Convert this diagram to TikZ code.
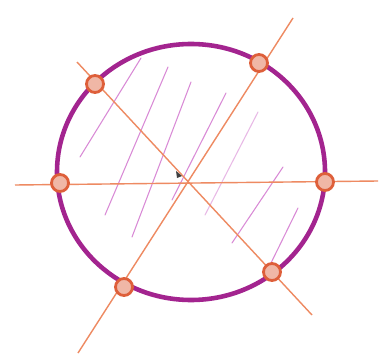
\documentclass[tikz,border=0pt]{standalone}
\definecolor{ringpurple}{HTML}{A3248F}
\definecolor{axisorange}{HTML}{EE8A62}
\definecolor{markorange}{HTML}{DE5F3A}
\definecolor{hatchpink}{HTML}{D98AD6}
\tikzset{
  axisline/.style={draw=axisorange, line width=0.8pt},
  hatchline/.style={draw=hatchpink, line width=0.6pt, line cap=round},
  ringline/.style={draw=ringpurple, line width=2.6pt},
  marker/.style={circle, draw=markorange, fill=markorange!45!white, line width=1.6pt,
    minimum size=0.34cm, inner sep=0pt},
}
\begin{document}
\begin{tikzpicture}[x=0.02cm, y=-0.02cm]
    \useasboundingbox[fill=white] (0,0) rectangle (391,361);
    % ends of the three lines
    \coordinate (hl) at (15,185);
    \coordinate (hr) at (378,181);
    \coordinate (dl) at (77,62);
    \coordinate (dr) at (312,315);
    \coordinate (ul) at (78,353);
    \coordinate (ur) at (293,18);
    \coordinate (ringc) at (191,172);
    % hatching
    \draw[hatchline] (80,157) -- (141,58);
    \draw[hatchline] (105,215) -- (168,67);
    \draw[hatchline] (132,237) -- (191,82);
    \draw[hatchline] (172,200) -- (226,93);
    \draw[hatchline, opacity=0.6] (205,215) -- (258,112);
    \draw[hatchline] (232,243) -- (283,167);
    \draw[hatchline] (270,265) -- (298,208);
    % lines
    \draw[axisline] (hl) -- (hr);
    \draw[axisline] (dl) -- (dr);
    \draw[axisline] (ul) -- (ur);
    % ring
    \draw[ringline] (ringc) ellipse [x radius=134, y radius=128];
    % points on the ring
    \node[marker] (pw) at (60,183) {};
    \node[marker] (pe) at (325,182) {};
    \node[marker] (pnw) at (95,84) {};
    \node[marker] (pne) at (259,63) {};
    \node[marker] (psw) at (124,287) {};
    \node[marker] (pse) at (272,272) {};
    % centre mark
    \fill[black!75] (176,171) -- (182,176) -- (177,178) -- cycle;
\end{tikzpicture}
\end{document}
